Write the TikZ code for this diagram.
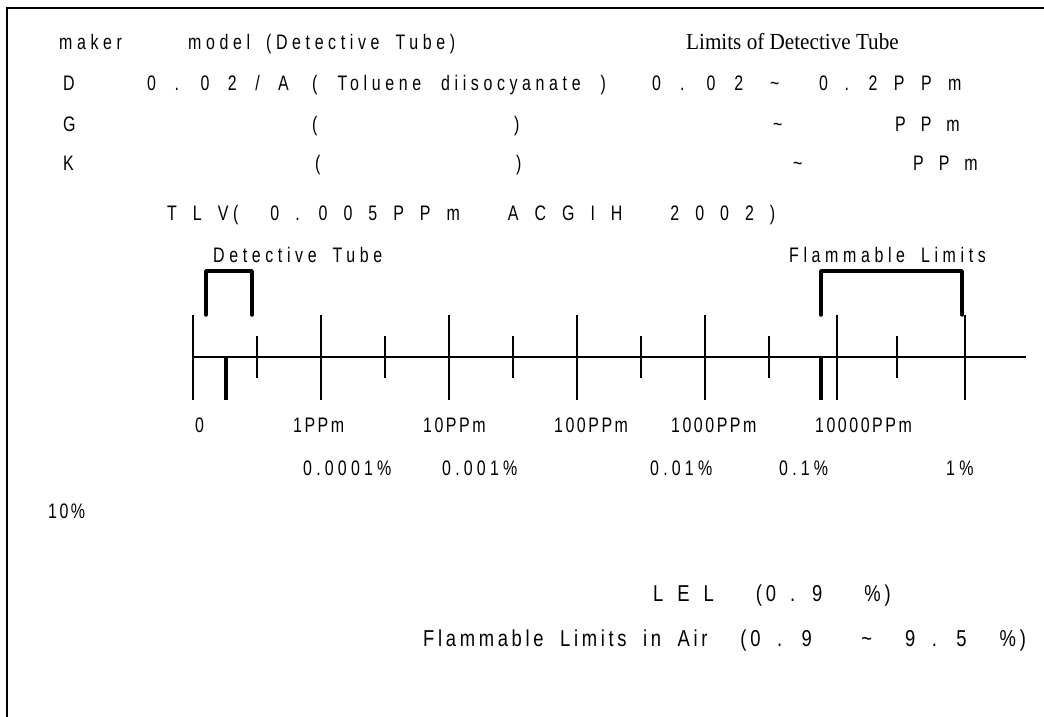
\documentclass[tikz,border=0pt]{standalone}
\usepackage{fontspec}
\setmainfont{Liberation Sans}
\newfontfamily\gothicA[FakeStretch=0.76,LetterSpace=22]{Liberation Sans}
\newfontfamily\gothicB[FakeStretch=0.76,LetterSpace=12]{Liberation Sans}
\newfontfamily\gothicC[FakeStretch=0.76,LetterSpace=20]{Liberation Sans}
\newfontfamily\gothicD[FakeStretch=0.8,LetterSpace=16]{Liberation Sans}
\newfontfamily\mincho[FakeStretch=0.92]{Liberation Serif}

\begin{document}
\begin{tikzpicture}[x=1pt, y=-1pt,
    txt/.style={inner sep=0pt, anchor=base west, font={\gothicA\fontsize{21pt}{25pt}\selectfont\spaceskip=16pt\relax}},
    wide/.style={inner sep=0pt, anchor=base west, font={\gothicA\fontsize{21pt}{25pt}\selectfont\spaceskip=#1\relax}},
    wide/.default=17pt,
    lbl/.style={inner sep=0pt, anchor=base west, font={\gothicB\fontsize{21pt}{25pt}\selectfont}},
    pct/.style={inner sep=0pt, anchor=base west, font={\gothicC\fontsize{21pt}{25pt}\selectfont}},
    big/.style={inner sep=0pt, anchor=base west, font={\gothicD\fontsize{23pt}{27pt}\selectfont\spaceskip=#1\relax}},
    big/.default=15pt,
    serif/.style={inner sep=0pt, anchor=base west, font={\mincho\fontsize{23pt}{27pt}\selectfont}},
    tick/.style={line width=1.2pt},
    bracket/.style={line width=3.5pt, line cap=round, line join=round}]
    \useasboundingbox (0,0) rectangle (1044,717);

    % frame
    \draw[line width=2.3pt] (7,717) -- (7,8) -- (1044,8);

    % table of tubes
    \node[txt] (maker) at (59,49) {maker};
    \node[txt] (model) at (188,49) {model (Detective Tube)};
    \node[serif] (limits) at (686,49) {Limits of Detective Tube};

    \node[txt] (makerD) at (63,91) {D};
    \node[wide=18.5pt] (modelD) at (147,91) {0 . 0 2 / A};
    \node[wide=20pt] (gasD) at (312,91) {( Toluene diisocyanate )};
    \node[wide=19pt] (lowD) at (652,91) {0 . 0 2};
    \node[txt] (tilD) at (770,91) {\textasciitilde};
    \node[wide=16.5pt] (highD) at (819,91) {0 . 2 P P m};

    \node[txt] (makerG) at (63,131) {G};
    \node[txt] (openG) at (312,131) {(};
    \node[txt] (closeG) at (514,131) {)};
    \node[txt] (tilG) at (773,131) {\textasciitilde};
    \node[wide=15pt] (highG) at (895,131) {P P m};

    \node[txt] (makerK) at (63,170) {K};
    \node[txt] (openK) at (315,170) {(};
    \node[txt] (closeK) at (516,170) {)};
    \node[txt] (tilK) at (793,170) {\textasciitilde};
    \node[wide=15pt] (highK) at (913,170) {P P m};

    \node[wide=16pt] (tlv) at (167,220) {T L V(\ \ 0 . 0 0 5 P P m\ \ \ A C G I H\ \ \ 2 0 0 2 )};

    % scale
    \node[txt] (tubelbl) at (213,262) {Detective Tube};
    \node[txt] (flamlbl) at (789,262) {Flammable Limits};

    \draw[line width=2.5pt] (193,357) coordinate (zero) -- (1026,357) coordinate (axend);
    \foreach \x in {193,321,449,577,705,837,965}
        \draw[tick] (\x,315) -- (\x,400);
    \foreach \x in {257,385,513,641,769,897}
        \draw[tick] (\x,336) -- (\x,378);

    \coordinate (tlvmark) at (226,357);
    \coordinate (lelmark) at (821,357);
    \draw[line width=3.5pt] (tlvmark) -- ++(0,43);
    \draw[line width=3.5pt] (lelmark) -- ++(0,43);

    \draw[bracket] (206,315) coordinate (tubelo) |- (252,271) coordinate (tubehi) -- ++(0,44);
    \draw[bracket] (821,315) coordinate (flamlo) |- (962,271) coordinate (flamhi) -- ++(0,44);

    \node[lbl] (ppm0) at (195,432) {0};
    \node[lbl] (ppm1) at (293,432) {1PPm};
    \node[lbl] (ppm10) at (423,432) {10PPm};
    \node[lbl] (ppm100) at (554,432) {100PPm};
    \node[lbl] (ppm1000) at (671,432) {1000PPm};
    \node[lbl] (ppm10000) at (815,432) {10000PPm};

    \node[pct] (pct1) at (303,475) {0.0001\%};
    \node[pct] (pct2) at (442,475) {0.001\%};
    \node[pct] (pct3) at (650,475) {0.01\%};
    \node[pct] (pct4) at (779,475) {0.1\%};
    \node[pct] (pct5) at (946,475) {1\%};
    \node[lbl] (pct6) at (48,518) {10\%};

    % limits
    \node[big=14pt] (lel) at (653,601) {L E L\ \ \ (\,0 . 9\ \ \ \%\,)};
    \node[big=16.5pt] (range) at (423,646) {Flammable Limits in Air\ \ (\,0 . 9\ \ \ \textasciitilde\ \ 9 . 5\ \ \%\,)};
\end{tikzpicture}
\end{document}
